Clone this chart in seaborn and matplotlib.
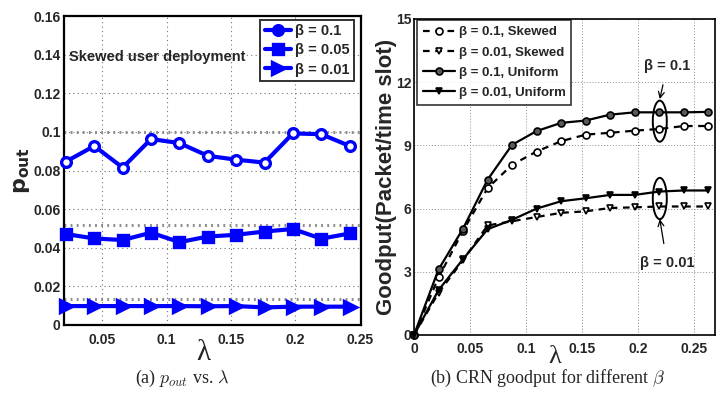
import matplotlib
matplotlib.use("Agg")
import matplotlib.pyplot as plt
import seaborn as sns
import pandas as pd
from matplotlib.patches import Ellipse

# ---------------- data ----------------
lam_a = [0.022, 0.044, 0.066, 0.088, 0.110, 0.132, 0.154, 0.176, 0.198, 0.220, 0.242]
pout_b01 = [0.0846, 0.0927, 0.0815, 0.0963, 0.0942, 0.0876, 0.0856, 0.0841, 0.0992, 0.0988, 0.0927]
pout_b005 = [0.0471, 0.0448, 0.0440, 0.0478, 0.0429, 0.0458, 0.0467, 0.0484, 0.0497, 0.0447, 0.0474]
pout_b001 = [0.0098, 0.0098, 0.0098, 0.0098, 0.0098, 0.0097, 0.0098, 0.0091, 0.0095, 0.0095, 0.0095]
labels_a = ["β = 0.1", "β = 0.05", "β = 0.01"]
ref_lines_a = [0.1, 0.052, 0.0136]

lam_b = [0.0, 0.0219, 0.0438, 0.0657, 0.0876, 0.1095, 0.1314, 0.1533, 0.1752, 0.1971, 0.219, 0.2409, 0.2628]
gp_b01_skew = [0, 2.73, 4.95, 6.97, 8.08, 8.71, 9.20, 9.51, 9.60, 9.70, 9.78, 9.92, 9.92]
gp_b001_skew = [0, 2.00, 3.55, 5.20, 5.40, 5.60, 5.80, 5.87, 6.03, 6.06, 6.10, 6.10, 6.10]
gp_b01_uni = [0, 3.11, 5.05, 7.37, 9.03, 9.68, 10.07, 10.18, 10.46, 10.57, 10.57, 10.57, 10.59]
gp_b001_uni = [0, 2.13, 3.60, 5.02, 5.47, 6.00, 6.35, 6.49, 6.65, 6.65, 6.81, 6.86, 6.86]
labels_b = ["β = 0.1, Skewed", "β = 0.01, Skewed", "β = 0.1, Uniform", "β = 0.01, Uniform"]

# ---------------- style ----------------
sns.set_style("white")
FAM = ["Liberation Sans", "DejaVu Sans"]
plt.rcParams["font.family"] = FAM
plt.rcParams["font.weight"] = "bold"
plt.rcParams["mathtext.fontset"] = "cm"

fig = plt.figure(figsize=(7.26, 4.16), dpi=100)
ax1 = fig.add_axes([64 / 726, 1 - 325 / 416, (361 - 64) / 726, (325 - 16) / 416])
ax2 = fig.add_axes([414 / 726, 1 - 335 / 416, (715 - 414) / 726, (335 - 19) / 416])

# ---------------- left panel ----------------
df_a = pd.DataFrame({"lam": lam_a, "b01": pout_b01, "b005": pout_b005, "b001": pout_b001})
blue = (0, 0, 1)
for col, lab, mk, mfc, ms in [("b01", labels_a[0], "o", "white", 7),
                              ("b005", labels_a[1], "s", blue, 7),
                              ("b001", labels_a[2], ">", blue, 8)]:
    sns.lineplot(data=df_a, x="lam", y=col, ax=ax1, color=blue, lw=3, marker=mk,
                 markersize=ms, markerfacecolor=mfc, markeredgecolor=blue,
                 markeredgewidth=2.4, label=lab, clip_on=False, zorder=5)
for yv in ref_lines_a:
    ax1.axhline(yv, color="0.55", lw=2.2, ls=(0, (0.6, 1.4)), zorder=2)

ax1.set_xlim(0.0205, 0.2508)
ax1.set_ylim(0, 0.16)
ax1.set_xticks([0.05, 0.1, 0.15, 0.2, 0.25])
ax1.set_xticklabels(["0.05", "0.1", "0.15", "0.2", "0.25"])
ax1.set_yticks([0, 0.02, 0.04, 0.06, 0.08, 0.1, 0.12, 0.14, 0.16])
ax1.set_yticklabels(["0", "0.02", "0.04", "0.06", "0.08", "0.1", "0.12", "0.14", "0.16"])
ax1.grid(True, color="0.45", ls=(0, (1, 3)), lw=0.8)
ax1.tick_params(direction="in", length=4, labelsize=10)
ax1.tick_params(axis="x", pad=6)
ax1.tick_params(axis="y", pad=2.5)
for s in ax1.spines.values():
    s.set_color("black"); s.set_linewidth(1.6)
ax1.set_xlabel("λ", family=["Liberation Serif", "DejaVu Serif"], fontsize=21,
               fontweight="normal")
ax1.xaxis.set_label_coords(139 / 297, -0.048)
ax1.set_ylabel(r"$\mathbf{p_{out}}$", math_fontfamily="dejavusans", fontsize=16)
ax1.yaxis.set_label_coords(-0.108, 0.5)
ax1.text(0.0244, 0.1388, "Skewed user deployment", fontsize=10.5, fontweight="bold",
         va="center", ha="left")
leg1 = ax1.legend(loc="upper right", bbox_to_anchor=(0.977, 0.987), fontsize=10.5,
                  frameon=True, fancybox=False, edgecolor="black", handlelength=1.8,
                  handletextpad=0.3, borderpad=0.3, labelspacing=0.35, borderaxespad=0)
leg1.get_frame().set_linewidth(1.4)
for t in leg1.get_texts():
    t.set_fontweight("bold")
for h in leg1.legend_handles:
    h.set_markerfacecolor(blue)

# ---------------- right panel ----------------
df_b = pd.DataFrame({"lam": lam_b, "s01": gp_b01_skew, "s001": gp_b001_skew,
                     "u01": gp_b01_uni, "u001": gp_b001_uni})
specs = [("s01", labels_b[0], "o", "white", (0, (3, 2.5))),
         ("s001", labels_b[1], "v", "white", (0, (3, 2.5))),
         ("u01", labels_b[2], "o", "0.35", "-"),
         ("u001", labels_b[3], "v", "black", "-")]
for col, lab, mk, mfc, ls in specs:
    sns.lineplot(data=df_b, x="lam", y=col, ax=ax2, color="black", lw=1.6, ls=ls,
                 marker=mk, markersize=5, markerfacecolor=mfc, markeredgecolor="black",
                 markeredgewidth=1.2, label=lab, clip_on=False, zorder=5)

ax2.set_xlim(0, 0.2688)
ax2.set_ylim(0, 15)
ax2.set_xticks([0, 0.05, 0.1, 0.15, 0.2, 0.25])
ax2.set_xticklabels(["0", "0.05", "0.1", "0.15", "0.2", "0.25"])
ax2.set_yticks([0, 3, 6, 9, 12, 15])
ax2.grid(True, color="0.55", ls=(0, (1, 2)), lw=0.7)
ax2.tick_params(direction="in", length=4, labelsize=10)
ax2.tick_params(axis="x", pad=5)
ax2.tick_params(axis="y", pad=2)
for s in ax2.spines.values():
    s.set_color("black"); s.set_linewidth(1.2)
ax2.set_xlabel("λ", family=["Liberation Serif", "DejaVu Serif"], fontsize=19,
               fontweight="normal")
ax2.xaxis.set_label_coords(141 / 301, -0.036)
ax2.set_ylabel("Goodput(Packet/time slot)", fontsize=16, fontweight="bold",
               family=["Liberation Sans", "DejaVu Sans"])
ax2.yaxis.set_label_coords(-0.058, 0.5)

ax2.add_patch(Ellipse((0.2195, 10.15), 0.0125, 1.95, fill=False, ec="black", lw=1.4, zorder=6))
ax2.add_patch(Ellipse((0.2195, 6.48), 0.0125, 1.96, fill=False, ec="black", lw=1.4, zorder=6))
ax2.annotate("β = 0.1", xy=(0.2195, 11.2), xytext=(0.226, 12.75), fontsize=10.5,
             ha="center", va="center", fontweight="bold",
             arrowprops=dict(arrowstyle="->", color="black", lw=0.9, shrinkA=6, shrinkB=0))
ax2.annotate("β = 0.01", xy=(0.2195, 5.5), xytext=(0.226, 3.4), fontsize=10.5,
             ha="center", va="center", fontweight="bold",
             arrowprops=dict(arrowstyle="->", color="black", lw=0.9, shrinkA=7, shrinkB=0))

leg2 = ax2.legend(loc="upper left", bbox_to_anchor=(0.01, 0.996), fontsize=9.5,
                  frameon=True, fancybox=False, edgecolor="black", handlelength=2.4,
                  handletextpad=0.3, borderpad=0.45, labelspacing=0.6, borderaxespad=0)
leg2.get_frame().set_linewidth(1.2)
for t in leg2.get_texts():
    t.set_fontweight("bold")

# ---------------- captions ----------------
cap_fam = ["Liberation Serif", "DejaVu Serif"]
fig.text(182 / 726, 1 - 378 / 416, r"(a) $p_{out}$ vs. $\lambda$", ha="center", va="center",
         fontsize=13, family=cap_fam, fontweight="normal")
fig.text(548 / 726, 1 - 378 / 416, r"(b) CRN goodput for different $\beta$", ha="center",
         va="center", fontsize=13, family=cap_fam, fontweight="normal")

fig.savefig("out.png", dpi=100)
